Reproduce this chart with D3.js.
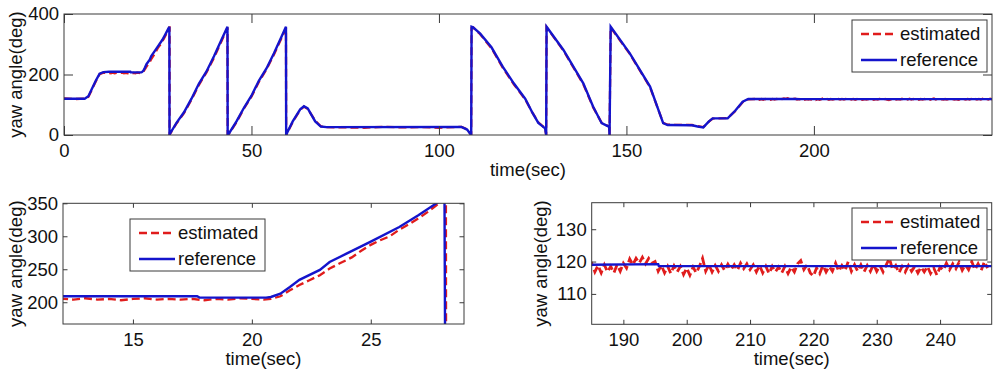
<!DOCTYPE html>
<html>
<head>
<meta charset="utf-8">
<script src="https://cdn.jsdelivr.net/npm/d3@7"></script>
<style>
  body { margin: 0; background: #fff; }
  svg { display: block; font-family: "Liberation Sans", Arial, sans-serif; }
</style>
</head>
<body>
<svg id="chart" width="1000" height="374"></svg>
<script>
// reference yaw track [time (sec), yaw (deg)]
const referenceYaw = [
  [0, 120], [5.5, 120], [6.5, 128], [8.5, 180], [9.5, 203], [10.5, 208], [12, 209],
  [17.7, 209], [17.8, 207], [20.6, 207], [20.8, 208], [21.2, 213], [21.6, 223], [22, 234],
  [22.86, 249], [23.27, 261], [24, 274], [25, 292], [26.2, 314], [27, 332], [27.76, 350],
  [28.1, 358], [28.14, 0], [28.3, 5], [30, 40], [32, 75], [34, 120], [36, 170], [38, 210],
  [40, 260], [42, 315], [43.6, 358], [43.65, 0], [44, 5], [46, 45], [48, 90], [50, 130],
  [52, 180], [54, 220], [56, 270], [58, 325], [59.2, 358], [59.25, 0], [59.6, 10], [61, 45],
  [63, 85], [64, 95], [65, 88], [67, 45], [68.5, 28], [70, 26], [106, 27], [107.5, 18],
  [108.6, 0], [108.7, 358], [109.1, 356], [111, 335], [114, 290], [117, 226], [120, 170],
  [123, 120], [125, 72], [126.5, 40], [127.5, 30], [128.3, 22], [128.6, 0], [128.7, 358],
  [133.2, 281], [138.5, 171], [141.1, 94], [143.4, 39], [145.4, 27], [145.5, 0], [145.8, 358],
  [150.9, 270], [156.3, 160], [159.8, 39], [161, 33], [167.5, 32], [169, 28], [170.5, 25],
  [172, 45], [173, 55], [177, 55], [179, 80], [181, 110], [182.5, 119], [195.5, 119.2],
  [195.6, 118.6], [248.2, 118.6]
];

// estimated yaw [time (sec), yaw (deg)]
const estimatedYaw = [
  [0, 121], [3, 119], [5.5, 120], [6.5, 126], [8.5, 178], [9.5, 201], [10.5, 206], [12.1, 205],
  [12.5, 204], [13, 206], [13.5, 204], [14, 205], [14.5, 203], [15, 205], [15.5, 206], [16, 204],
  [16.5, 205], [17, 204], [17.5, 205], [18, 203], [18.5, 205], [19, 204], [19.5, 206], [20, 205],
  [20.5, 204], [20.8, 205], [21.2, 209], [21.6, 218], [22, 226], [22.4, 233], [22.86, 241],
  [23.27, 251], [23.7, 259], [24.2, 268], [24.6, 278], [25, 287], [25.4, 294], [25.8, 300],
  [26.2, 310], [26.6, 318], [27, 327], [27.4, 337], [27.76, 347], [28.1, 356], [28.16, 356],
  [28.17, 0], [28.3, 4], [30, 38], [32, 72], [34, 117], [36, 166], [38, 207], [40, 255],
  [42, 310], [43.5, 352], [43.6, 355], [43.65, 0], [44, 4], [46, 42], [48, 88], [50, 127],
  [52, 176], [54, 217], [56, 266], [58, 320], [59.2, 354], [59.25, 0], [59.6, 8], [61, 43],
  [63, 83], [64, 94], [65, 86], [67, 47], [68.5, 29], [70, 26], [80, 24], [85, 27], [90, 25],
  [95, 26], [100, 24], [106, 27], [107.5, 19], [108.6, 0], [108.7, 355], [109.1, 356],
  [111, 333], [114, 287], [117, 223], [120, 167], [123, 118], [125, 72], [126.5, 42],
  [127.5, 31], [128.3, 23], [128.6, 0], [128.7, 356], [133.2, 279], [138.5, 168], [141.1, 92],
  [143.4, 40], [145.4, 28], [145.5, 0], [145.8, 355], [150.9, 268], [156.3, 158], [159.8, 40],
  [161, 34], [167.5, 33], [169, 29], [170.5, 26], [172, 44], [173, 54], [177, 56], [179, 79],
  [181, 108], [182.5, 118],
  [185, 119.5], [185.5, 116.8], [186, 118.8], [186.5, 116.5], [187, 119], [187.5, 116.8],
  [188, 118.5], [188.5, 116.5], [189, 119], [189.5, 117],
  [190, 119.5], [190.5, 118], [191, 120.8], [191.5, 119], [192, 121], [192.5, 119.5],
  [193, 121.3], [193.5, 119.3], [194, 121], [194.5, 119.5],
  [195, 120], [195.5, 117], [196, 118.8], [196.5, 116.5], [197, 118.5], [197.5, 116.3],
  [198, 118.7], [198.5, 116.8], [199, 118.5], [199.5, 116],
  [200, 118], [200.5, 115.8], [201, 118.3], [201.5, 116.5], [202, 118.5], [202.5, 121],
  [203, 117], [203.5, 119], [204, 116.8], [204.5, 118.8],
  [205, 117], [205.5, 119], [206, 117.2], [206.5, 119.2], [207, 117.5], [207.5, 119],
  [208, 117.3], [208.5, 119.5], [209, 117.8], [209.5, 119.3],
  [210, 117.5], [210.5, 119], [211, 116.8], [211.5, 118.8], [212, 116.5], [212.5, 118.5],
  [213, 116.3], [213.5, 118.5], [214, 116.8], [214.5, 118.3],
  [215, 116.5], [215.5, 118.5], [216, 116.3], [216.5, 118.3], [217, 116.8], [217.5, 119.3],
  [218, 120.3], [218.5, 117.5], [219, 119], [219.5, 116.5],
  [220, 115.5], [220.5, 118], [221, 116.3], [221.5, 118.8], [222, 116.8], [222.5, 118.5],
  [223, 117], [223.5, 119.5], [224, 117], [224.5, 118.8],
  [225, 117.2], [225.5, 120], [226, 117], [226.5, 119], [227, 117], [227.5, 119],
  [228, 116.8], [228.5, 118.8], [229, 117], [229.5, 119.2],
  [230, 117], [230.5, 118.8], [231, 116.8], [231.5, 119], [232, 121], [232.5, 117.5],
  [233, 118.8], [233.5, 116.5], [234, 118.5], [234.5, 116.8],
  [235, 118.8], [235.5, 117], [236, 118.5], [236.5, 116.5], [237, 118.3], [237.5, 116.8],
  [238, 118.5], [238.5, 116.3], [239, 118], [239.5, 115.8],
  [240, 118.3], [240.5, 117.3], [241, 119.5], [241.5, 117.5], [242, 119.3], [242.5, 117.8],
  [243, 119.8], [243.5, 117.3], [244, 119], [244.5, 117.5],
  [245, 120], [245.5, 117.5], [246, 119.3], [246.5, 117.3], [247, 120], [247.5, 118]
];

const seriesNames = ['estimated', 'reference'];

const overviewTimeDomain = [0, 247.5];
const overviewYawDomain = [0, 400];
const overviewTimeTicks = [0, 50, 100, 150, 200];
const overviewYawTicks = [0, 200, 400];

const rampTimeDomain = [12.06, 28.92];
const rampYawDomain = [167, 350];
const rampTimeTicks = [15, 20, 25];
const rampYawTicks = [200, 250, 300, 350];

const steadyTimeDomain = [185, 248.15];
const steadyYawDomain = [100.6, 138.2];
const steadyTimeTicks = [190, 200, 210, 220, 230, 240];
const steadyYawTicks = [110, 120, 130];

const RED = '#e01c1c';
const BLUE = '#1414cc';
const FRAME = '#3a3a3a';
const FONT_SIZE = 18.5;

const svg = d3.select('#chart');

function drawPanel(p) {
  const g = svg.append('g').attr('transform', `translate(${p.left},${p.top})`);

  const x = d3.scaleLinear().domain(p.xDomain).range([0, p.width]);
  const y = d3.scaleLinear().domain(p.yDomain).range([p.height, 0]);

  g.append('clipPath').attr('id', 'clip-' + p.id)
    .append('rect').attr('width', p.width).attr('height', p.height);

  const line = d3.line().x((d) => x(d[0])).y((d) => y(d[1]));

  const plot = g.append('g').attr('clip-path', `url(#clip-${p.id})`);
  plot.append('path')
    .datum(estimatedYaw)
    .attr('d', line)
    .attr('fill', 'none')
    .attr('stroke', RED)
    .attr('stroke-width', p.estWidth)
    .attr('stroke-dasharray', '8,4');
  plot.append('path')
    .datum(referenceYaw)
    .attr('d', line)
    .attr('fill', 'none')
    .attr('stroke', BLUE)
    .attr('stroke-width', 2.4);

  // axes, ticks pointing inward like matlab
  const styleAxis = (a) => {
    a.attr('font-size', FONT_SIZE).attr('font-family', null).attr('color', FRAME);
    a.select('.domain').remove();
    a.selectAll('text').attr('fill', '#111');
  };

  g.append('g')
    .attr('transform', `translate(0,${p.height})`)
    .call(d3.axisBottom(x).tickValues(p.xTicks).tickSizeInner(-p.tick).tickSizeOuter(0).tickPadding(0))
    .call(styleAxis)
    .selectAll('text').attr('dy', null).attr('y', 22);

  g.append('g')
    .call(d3.axisTop(x).tickValues(p.xTicks).tickSizeInner(-p.tick).tickSizeOuter(0).tickFormat(''))
    .call(styleAxis);

  g.append('g')
    .call(d3.axisLeft(y).tickValues(p.yTicks).tickSizeInner(-p.tick).tickSizeOuter(0).tickPadding(5))
    .call(styleAxis);

  g.append('g')
    .attr('transform', `translate(${p.width},0)`)
    .call(d3.axisRight(y).tickValues(p.yTicks).tickSizeInner(-p.tick).tickSizeOuter(0).tickFormat(''))
    .call(styleAxis);

  g.append('rect')
    .attr('width', p.width)
    .attr('height', p.height)
    .attr('fill', 'none')
    .attr('stroke', FRAME)
    .attr('stroke-width', 1);

  g.append('text')
    .attr('x', p.width / 2)
    .attr('y', p.height + 41)
    .attr('text-anchor', 'middle')
    .attr('font-size', FONT_SIZE)
    .attr('fill', '#111')
    .text('time(sec)');

  g.append('text')
    .attr('transform', `translate(${p.yTitle},${p.height / 2}) rotate(-90)`)
    .attr('text-anchor', 'middle')
    .attr('font-size', FONT_SIZE)
    .attr('fill', '#111')
    .text('yaw angle(deg)');

  // legend box
  const lg = svg.append('g').attr('transform', `translate(${p.legend[0]},${p.legend[1]})`);
  lg.append('rect')
    .attr('width', 135)
    .attr('height', 52)
    .attr('fill', '#fff')
    .attr('stroke', FRAME)
    .attr('stroke-width', 1);
  seriesNames.forEach((name, i) => {
    const cy = 14 + i * 26;
    lg.append('line')
      .attr('x1', 9).attr('x2', 45)
      .attr('y1', cy).attr('y2', cy)
      .attr('stroke', i === 0 ? RED : BLUE)
      .attr('stroke-width', i === 0 ? 2.3 : 2.4)
      .attr('stroke-dasharray', i === 0 ? '8,4' : null);
    lg.append('text')
      .attr('x', 48)
      .attr('y', cy)
      .attr('dy', '0.35em')
      .attr('font-size', FONT_SIZE)
      .attr('fill', '#111')
      .text(name);
  });
}

drawPanel({
  id: 'overview', left: 64, top: 14, width: 928, height: 121, tick: 9, yTitle: -42, estWidth: 2.3,
  xDomain: overviewTimeDomain, yDomain: overviewYawDomain,
  xTicks: overviewTimeTicks, yTicks: overviewYawTicks, legend: [852, 20]
});

drawPanel({
  id: 'ramp', left: 63, top: 203.3, width: 401, height: 120.7, tick: 4.5, yTitle: -41, estWidth: 2.3,
  xDomain: rampTimeDomain, yDomain: rampYawDomain,
  xTicks: rampTimeTicks, yTicks: rampYawTicks, legend: [130, 219]
});

drawPanel({
  id: 'steady', left: 591.7, top: 202.7, width: 400, height: 121.6, tick: 4.5, yTitle: -45, estWidth: 2.8,
  xDomain: steadyTimeDomain, yDomain: steadyYawDomain,
  xTicks: steadyTimeTicks, yTicks: steadyYawTicks, legend: [852, 208]
});
</script>
</body>
</html>
